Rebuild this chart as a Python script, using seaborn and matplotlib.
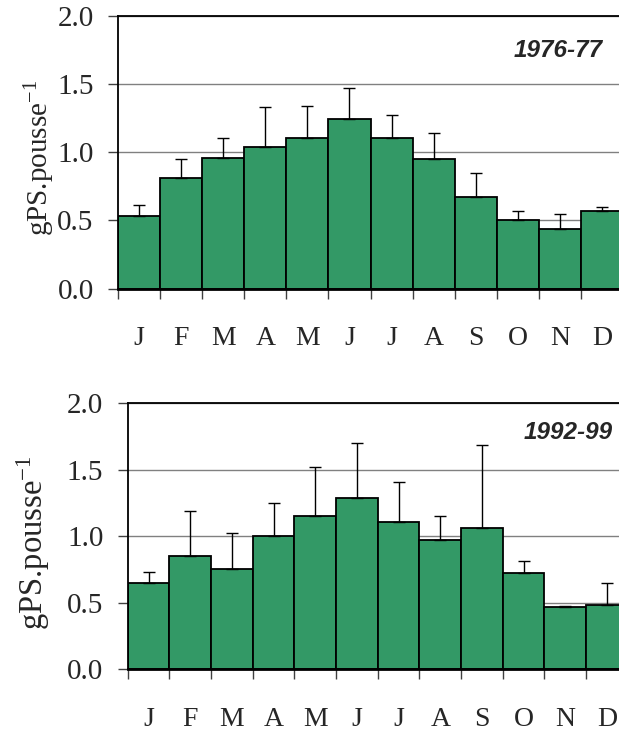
import numpy as np
import pandas as pd
import matplotlib
matplotlib.use("Agg")
import matplotlib.pyplot as plt
import seaborn as sns
from matplotlib.ticker import FixedLocator

months = ["J", "F", "M", "A", "M", "J", "J", "A", "S", "O", "N", "D"]

# 1976-77 : monthly means and upper error bar ends
mean_7677 = [0.53, 0.81, 0.96, 1.04, 1.10, 1.245, 1.10, 0.95, 0.67, 0.505, 0.435, 0.565]
top_7677 = [0.61, 0.95, 1.10, 1.33, 1.34, 1.47, 1.27, 1.14, 0.845, 0.565, 0.55, 0.60]

# 1992-99
mean_9299 = [0.65, 0.855, 0.755, 1.00, 1.155, 1.29, 1.11, 0.975, 1.06, 0.725, 0.47, 0.485]
top_9299 = [0.735, 1.19, 1.025, 1.25, 1.52, 1.70, 1.41, 1.155, 1.69, 0.815, 0.48, 0.65]

years = ["1976-77", "1992-99"]

sns.set_style("white")
plt.rcParams["font.family"] = ["Liberation Serif", "DejaVu Serif"]
plt.rcParams["mathtext.default"] = "regular"

GREEN = "#339966"

fig = plt.figure(figsize=(6.19, 7.36), dpi=100)
ax1 = fig.add_axes([0.1906, 0.608, 0.816, 0.3706])
ax2 = fig.add_axes([0.2063, 0.0904, 0.808, 0.3616])


def draw_panel(ax, means, tops, label, label_xy, ylab_xy, ylab_size):
    df = pd.DataFrame({"month": range(12), "value": means})
    ax.set_axisbelow(True)
    ax.yaxis.grid(True, color="#808080", linewidth=1.0)
    sns.barplot(data=df, x="month", y="value", color=GREEN, width=1.0,
                edgecolor="black", linewidth=1.3, saturation=1, ax=ax, zorder=2)
    err = np.array(tops) - np.array(means)
    ax.errorbar(np.arange(12), means, yerr=[np.zeros(12), err], fmt="none",
                ecolor="black", elinewidth=1.0, capsize=4.5, capthick=1.0, zorder=3)

    ax.set_xlim(-0.5, 11.5)
    ax.set_ylim(0, 2.0)
    ax.set_yticks([0.0, 0.5, 1.0, 1.5, 2.0])
    ax.set_yticklabels(["0.0", "0.5", "1.0", "1.5", "2.0"])
    ax.set_xticks(range(12))
    ax.set_xticklabels(months)
    ax.xaxis.set_minor_locator(FixedLocator(np.arange(-0.5, 12, 1.0)))
    ax.tick_params(axis="x", which="major", length=0, pad=27, labelsize=20)
    ax.tick_params(axis="x", which="minor", length=7, width=1.0, color="#404040",
                   direction="out", bottom=True)
    ax.tick_params(axis="y", length=7, width=1.0, color="#404040", direction="out",
                   left=True, pad=10.5, labelsize=21)

    for side in ["left", "top", "bottom"]:
        ax.spines[side].set_visible(True)
        ax.spines[side].set_color("black")
    ax.spines["left"].set_linewidth(1.3)
    ax.spines["top"].set_linewidth(1.3)
    ax.spines["bottom"].set_linewidth(2.0)
    ax.spines["right"].set_visible(False)

    ax.set_xlabel("")
    ax.set_ylabel("gPS.pousse$^{-1}$", fontsize=ylab_size)
    ax.yaxis.set_label_coords(*ylab_xy)

    ax.text(label_xy[0], label_xy[1], label, transform=ax.transAxes,
            ha="right", va="center", fontsize=17.5, fontweight="bold",
            fontstyle="italic", family=["Liberation Sans", "DejaVu Sans"])


draw_panel(ax1, mean_7677, top_7677, years[0], (0.960, 0.874), (-0.120, 0.478), 21)
draw_panel(ax2, mean_9299, top_9299, years[1], (0.969, 0.892), (-0.151, 0.477), 23.5)

fig.savefig("out.png", dpi=100)
